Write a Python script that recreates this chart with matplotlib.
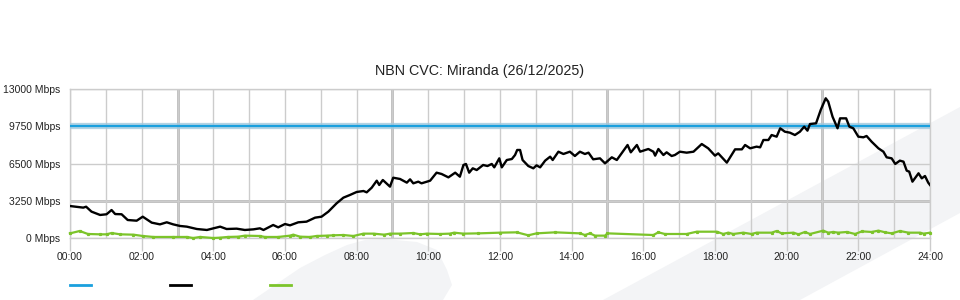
import matplotlib
matplotlib.use("Agg")
import matplotlib.pyplot as plt
from matplotlib.patches import Polygon
from matplotlib.lines import Line2D

plt.rcParams["font.family"] = ["Liberation Sans", "DejaVu Sans"]

title = "NBN CVC: Miranda (26/12/2025)"
cvc_capacity = 9750
y_ticks = [0, 3250, 6500, 9750, 13000]
y_tick_labels = ["0 Mbps", "3250 Mbps", "6500 Mbps", "9750 Mbps", "13000 Mbps"]
x_ticks = [0, 2, 4, 6, 8, 10, 12, 14, 16, 18, 20, 22, 24]
x_tick_labels = ["00:00", "02:00", "04:00", "06:00", "08:00", "10:00", "12:00",
                 "14:00", "16:00", "18:00", "20:00", "22:00", "24:00"]

# traffic (black), hours of day
traffic_hours = [
    0.00, 0.37, 0.45, 0.60, 0.84, 1.02, 1.16, 1.26, 1.44, 1.61, 1.86, 2.03,
    2.28, 2.51, 2.70, 2.88, 3.07, 3.26, 3.54, 3.82, 4.00, 4.19, 4.37, 4.65,
    4.88, 5.12, 5.30, 5.40, 5.67, 5.81, 6.00, 6.14, 6.37, 6.60, 6.84, 7.02,
    7.21, 7.44, 7.63, 7.81, 8.00, 8.19, 8.28, 8.42, 8.56, 8.63, 8.73, 8.93,
    9.02, 9.21, 9.40, 9.49, 9.58, 9.72, 9.81, 10.05, 10.23, 10.37, 10.56,
    10.75, 10.88, 10.98, 11.05, 11.14, 11.24, 11.35, 11.53, 11.65, 11.77,
    11.84, 11.98, 12.05, 12.19, 12.33, 12.42, 12.48, 12.56, 12.63, 12.79,
    12.93, 13.02, 13.12, 13.26, 13.40, 13.47, 13.63, 13.77, 13.95, 14.09,
    14.23, 14.37, 14.47, 14.60, 14.79, 14.93, 15.12, 15.26, 15.56, 15.65,
    15.82, 15.91, 16.14, 16.28, 16.33, 16.42, 16.56, 16.65, 16.79, 16.88,
    17.02, 17.21, 17.40, 17.63, 17.81, 18.00, 18.09, 18.33, 18.56, 18.75,
    18.84, 18.98, 19.16, 19.26, 19.35, 19.49, 19.58, 19.72, 19.82, 19.95,
    20.09, 20.23, 20.37, 20.49, 20.58, 20.65, 20.82, 20.95, 21.09, 21.16,
    21.28, 21.42, 21.49, 21.66, 21.75, 21.86, 22.00, 22.14, 22.23, 22.37,
    22.56, 22.70, 22.79, 22.93, 23.03, 23.16, 23.26, 23.35, 23.42, 23.51,
    23.68, 23.77, 23.86, 23.95, 24.00,
]
traffic_mbps = [
    2790, 2650, 2730, 2300, 2010, 2070, 2440, 2090, 2070, 1570, 1510, 1860,
    1340, 1190, 1370, 1190, 1050, 990, 785, 700, 845, 990, 785, 815,
    700, 755, 845, 700, 1135, 930, 1220, 1105, 1370, 1425, 1775, 1860,
    2300, 3025, 3520, 3750, 4015, 4100, 3985, 4390, 5000, 4625, 5060, 4480,
    5260, 5150, 4830, 5120, 4770, 4915, 4770, 5000, 5700, 5585, 5290,
    5700, 5350, 6370, 6460, 5700, 6080, 5930, 6370, 6280, 6460,
    6165, 6950, 6165, 6805, 6890, 7240, 7680, 7680, 6805, 6280,
    6080, 6340, 6165, 6750, 7095, 6805, 7530, 7330, 7530, 7155,
    7530, 7330, 7445, 6865, 6950, 6515, 7040, 6805, 8115, 7475,
    8115, 7530, 7765, 7530, 7185, 7765, 7240, 7475, 7155, 7240,
    7530, 7445, 7530, 8200, 7825, 7185, 7385, 6575, 7735, 7735,
    8115, 7825, 7970, 7910, 8550, 8550, 8985, 8840, 9570, 9275,
    9190, 8985, 9275, 9715, 9365, 9945, 10005, 11170, 12190, 11895,
    10585, 9570, 10440, 10440, 9715, 9570, 8840, 8785, 8900, 8405,
    7825, 7530, 7040, 6950, 6460, 6750, 6660, 5875, 5790, 4915,
    5645, 5205, 5410, 4830, 4625,
]

# green series
green_hours = [
    0.00, 0.27, 0.50, 0.84, 1.02, 1.16, 1.40, 1.77, 2.03, 2.33, 2.88, 3.26,
    3.44, 3.63, 4.00, 4.19, 4.40, 4.70, 4.88, 5.30, 5.44, 5.81, 6.14, 6.23,
    6.42, 6.70, 6.88, 7.16, 7.35, 7.63, 7.91, 8.19, 8.47, 8.77, 8.93, 9.21,
    9.58, 9.77, 9.96, 10.33, 10.60, 10.72, 10.98, 11.40, 12.00, 12.47, 12.79,
    13.02, 13.54, 14.23, 14.37, 14.51, 14.65, 14.93, 15.00, 16.28, 16.42,
    16.60, 17.21, 17.49, 18.05, 18.23, 18.37, 18.51, 18.79, 19.02, 19.16,
    19.58, 19.72, 19.86, 20.19, 20.33, 20.51, 20.65, 21.02, 21.16, 21.30,
    21.44, 21.68, 21.91, 22.10, 22.37, 22.56, 22.75, 22.93, 23.16, 23.40,
    23.72, 23.82, 24.00,
]
green_mbps = [
    405, 610, 350, 320, 320, 435, 320, 290, 175, 90, 90, 90,
    0, 90, 0, 30, 90, 115, 205, 175, 90, 90, 205, 290,
    115, 90, 175, 205, 235, 260, 175, 380, 380, 290, 380, 380,
    435, 320, 380, 350, 380, 465, 380, 405, 465, 495, 235,
    405, 495, 405, 260, 405, 205, 205, 405, 260, 495,
    350, 350, 550, 550, 350, 465, 350, 465, 350, 465,
    465, 610, 405, 465, 320, 525, 350, 640, 465, 525,
    465, 525, 350, 580, 525, 640, 495, 405, 610, 465,
    465, 380, 465,
]

fig = plt.figure(figsize=(9.6, 3.0), dpi=100)

# faint watermark shapes behind everything
fig.patches.append(Polygon(
    [(603 / 960, 0), (1.0, 193 / 300), (1.0, 87 / 300), (800 / 960, 0)],
    closed=True, transform=fig.transFigure, facecolor="#f3f4f6",
    edgecolor="none", zorder=-5))
fig.patches.append(Polygon(
    [(253 / 960, 0), (275 / 960, 15 / 300), (300 / 960, 32 / 300),
     (325 / 960, 45 / 300), (347 / 960, 55 / 300), (365 / 960, 60 / 300),
     (385 / 960, 61 / 300), (417 / 960, 58 / 300), (437 / 960, 50 / 300),
     (447 / 960, 30 / 300), (452 / 960, 15 / 300), (443 / 960, 0)],
    closed=True, transform=fig.transFigure, facecolor="#f3f4f6",
    edgecolor="none", zorder=-5))

ax = fig.add_axes([70 / 960, 62 / 300, 860 / 960, 149 / 300])
ax.patch.set_alpha(0)

ax.set_xlim(0, 24)
ax.set_ylim(0, 13000)

# grid
ax.set_xticks(x_ticks)
ax.set_xticklabels(x_tick_labels)
ax.set_xticks(range(25), minor=True)
ax.set_yticks(y_ticks)
ax.set_yticklabels(y_tick_labels)
ax.grid(True, which="both", axis="x", color="#cccccc", lw=1.0, zorder=1)
ax.grid(True, which="major", axis="y", color="#cccccc", lw=1.0, zorder=1)
for h in [3, 9, 15, 21]:
    ax.axvline(h, color="#bbbbbb", lw=2.0, zorder=1)
ax.axhline(3250, color="#bbbbbb", lw=2.0, zorder=1)

ax.tick_params(axis="x", which="major", length=9, width=1.0, color="#cccccc",
               labelsize=7.5, labelcolor="#222222", pad=1)
ax.tick_params(axis="x", which="minor", length=0)
ax.tick_params(axis="y", length=0, labelsize=7.5, labelcolor="#222222", pad=7)
for s in ax.spines.values():
    s.set_color("#cccccc")
    s.set_linewidth(1.0)

# CVC capacity
ax.axhline(cvc_capacity, color="#9fc8de", lw=4.5, alpha=0.8, zorder=3)
ax.axhline(cvc_capacity, color="#1aa0de", lw=1.6, zorder=4)

ax.plot(green_hours, green_mbps, color="#7cc42a", lw=1.6, marker="s",
        ms=1.3, zorder=4, clip_on=False)
ax.plot(traffic_hours, traffic_mbps, color="#000000", lw=1.7, zorder=5)

fig.text(480 / 960, 1 - 71 / 300, title, ha="center", va="center",
         fontsize=10.3, color="#222222")

# legend swatches (no labels)
for x0, c in [(70, "#1aa0de"), (170, "#000000"), (270, "#7cc42a")]:
    fig.add_artist(Line2D([x0 / 960, (x0 + 21) / 960], [15 / 300, 15 / 300],
                          color=c, lw=2.0, transform=fig.transFigure))

fig.savefig("out.png", dpi=100)
